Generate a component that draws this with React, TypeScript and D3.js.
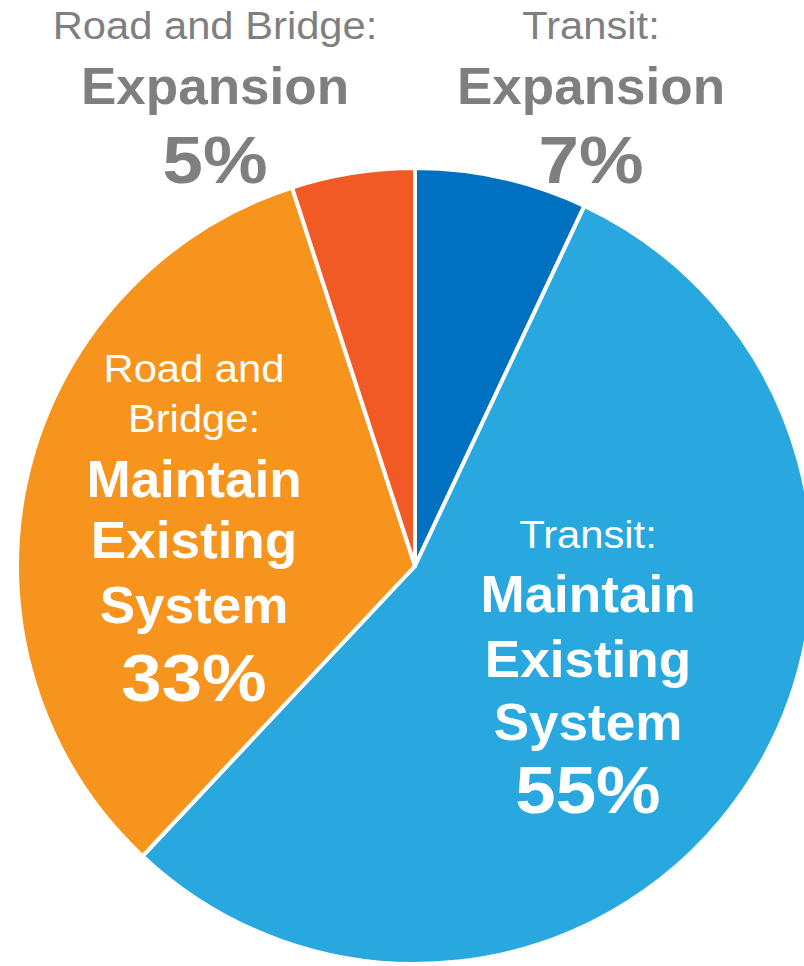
import React, { useEffect, useRef } from "react";
import * as d3 from "d3";

// slices, clockwise from 12 o'clock
const categories = [
  "Transit: Expansion",
  "Transit: Maintain Existing System",
  "Road and Bridge: Maintain Existing System",
  "Road and Bridge: Expansion",
];
const values = [7, 55, 33, 5];
const colors = ["#0070C0", "#29A8E0", "#F7941D", "#F15A24"];
const groupNames = ["Transit:", "Transit:", "Road and Bridge:", "Road and Bridge:"];

const W = 804;
const H = 966;
const FONT = "'Liberation Sans', Arial, Helvetica, sans-serif";

// label text lines per slice; kind: small = regular heading, big = bold, pct = bold percent
type Line = { text: string; kind: "small" | "big" | "pct"; y: number };
type Label = { x: number; fill: string; lines: Line[] };

export default function App() {
  const ref = useRef<SVGSVGElement>(null);

  useEffect(() => {
    const svg = d3.select(ref.current);
    svg.selectAll("*").remove();

    const cx = 415;
    const cy = 566;
    const r = 398;

    const pie = d3
      .pie<number>()
      .sort(null)
      .value((d) => d);
    const arc = d3.arc<d3.PieArcDatum<number>>().innerRadius(0).outerRadius(r);

    const g = svg.append("g").attr("transform", `translate(${cx},${cy})`);

    g.selectAll("path")
      .data(pie(values))
      .enter()
      .append("path")
      .attr("d", arc)
      .attr("fill", (d, i) => colors[i])
      .attr("stroke", "#fff")
      .attr("stroke-width", 4)
      .attr("stroke-linejoin", "round");

    const pct = (i: number) => values[i] + "%";

    const labels: Label[] = [
      {
        x: 591,
        fill: "#7F7F7F",
        lines: [
          { text: groupNames[0], kind: "small", y: 39 },
          { text: "Expansion", kind: "big", y: 104 },
          { text: pct(0), kind: "pct", y: 183 },
        ],
      },
      {
        x: 588,
        fill: "#fff",
        lines: [
          { text: groupNames[1], kind: "small", y: 548 },
          { text: "Maintain", kind: "big", y: 612 },
          { text: "Existing", kind: "big", y: 677 },
          { text: "System", kind: "big", y: 740 },
          { text: pct(1), kind: "pct", y: 813 },
        ],
      },
      {
        x: 194,
        fill: "#fff",
        lines: [
          { text: "Road and", kind: "small", y: 382 },
          { text: "Bridge:", kind: "small", y: 432 },
          { text: "Maintain", kind: "big", y: 497 },
          { text: "Existing", kind: "big", y: 558 },
          { text: "System", kind: "big", y: 623 },
          { text: pct(2), kind: "pct", y: 701 },
        ],
      },
      {
        x: 215,
        fill: "#7F7F7F",
        lines: [
          { text: groupNames[3], kind: "small", y: 39 },
          { text: "Expansion", kind: "big", y: 104 },
          { text: pct(3), kind: "pct", y: 183 },
        ],
      },
    ];

    // font size and horizontal stretch per line kind
    const size = { small: 39, big: 52, pct: 66 };
    const stretch = { small: 1.07, big: 1.02, pct: 1.1 };

    labels.forEach((lab) => {
      svg
        .append("g")
        .selectAll("text")
        .data(lab.lines)
        .enter()
        .append("text")
        .attr("transform", (d) => `translate(${lab.x},${d.y}) scale(${stretch[d.kind]},1)`)
        .attr("text-anchor", "middle")
        .attr("font-family", FONT)
        .attr("font-size", (d) => size[d.kind])
        .attr("font-weight", (d) => (d.kind === "small" ? "normal" : "bold"))
        .attr("fill", lab.fill)
        .text((d) => d.text);
    });
  }, []);

  return (
    <svg
      ref={ref}
      width={W}
      height={H}
      style={{ position: "absolute", left: 0, top: 0, background: "#fff" }}
    />
  );
}
